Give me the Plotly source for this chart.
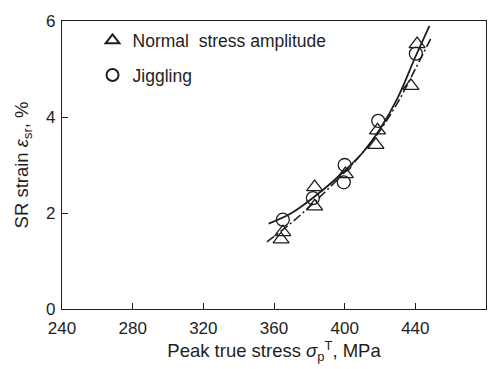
import plotly.graph_objects as go

# Data
tri_x = [364, 365, 383, 383, 400.4, 418.6, 417.7, 441, 437.5]
tri_y = [1.45, 1.6, 2.54, 2.14, 2.81, 3.72, 3.42, 5.52, 4.65]
cir_x = [365, 382, 400, 399.5, 419, 440.3]
cir_y = [1.86, 2.31, 3.0, 2.64, 3.92, 5.32]

fit1_x = [357, 370, 385, 400, 410, 420, 430, 440, 448]
fit1_y = [1.78, 2.0, 2.4, 2.88, 3.25, 3.75, 4.4, 5.25, 5.9]
fit2_x = [356, 370, 385, 400, 410, 420, 430, 440, 449]
fit2_y = [1.4, 1.8, 2.3, 2.85, 3.25, 3.72, 4.3, 5.0, 5.65]

x_ticks = [240, 280, 320, 360, 400, 440, 480]
y_ticks = [0, 2, 4, 6]

ink = "#1e1e1e"
font = "Liberation Sans, Arial, Helvetica, sans-serif"

fig = go.Figure()
fig.add_trace(go.Scatter(x=fit1_x, y=fit1_y, mode="lines", line=dict(color=ink, width=1.8, shape="spline"),
                         showlegend=False))
fig.add_trace(go.Scatter(x=fit2_x, y=fit2_y, mode="lines",
                         line=dict(color=ink, width=1.6, shape="spline", dash="9px,3px,2px,3px"),
                         showlegend=False))
fig.add_trace(go.Scatter(x=tri_x, y=tri_y, mode="markers", name="Normal  stress amplitude",
                         legendgroup="a",
                         marker=dict(symbol="triangle-up-open", size=14, color=ink, line=dict(width=1.3))))
fig.add_trace(go.Scatter(x=cir_x, y=cir_y, mode="markers", name="Jiggling",
                         legendgroup="b",
                         marker=dict(symbol="circle-open", size=13, color=ink, line=dict(width=1.3))))

fig.update_layout(
    width=499, height=369,
    margin=dict(l=62, r=12, t=12, b=58),
    paper_bgcolor="white", plot_bgcolor="white",
    font=dict(family=font, size=16, color=ink),
    legend=dict(x=0.072, y=0.995, xanchor="left", yanchor="top", bgcolor="rgba(0,0,0,0)",
                tracegroupgap=9, traceorder="grouped", itemsizing="constant",
                font=dict(size=17.5)),
    xaxis=dict(range=[240, 480], tickvals=x_ticks, ticks="inside", ticklen=6, tickcolor=ink,
               showline=True, linecolor=ink, linewidth=1.3, mirror=True, showgrid=False, zeroline=False,
               tickfont=dict(size=17), ticklabelstandoff=3,
               title=dict(text="Peak true stress <i>σ</i><sub>p</sub><sup>T</sup>, MPa", standoff=7,
                          font=dict(size=18.5))),
    yaxis=dict(range=[0, 6], tickvals=y_ticks, ticks="inside", ticklen=6, tickcolor=ink,
               showline=True, linecolor=ink, linewidth=1.3, mirror=True, showgrid=False, zeroline=False,
               tickfont=dict(size=17), ticklabelstandoff=2,
               title=dict(text="SR strain <i>ε</i><sub>sr</sub>, %", standoff=12, font=dict(size=18.5))),
)

fig.write_html("out.html")
